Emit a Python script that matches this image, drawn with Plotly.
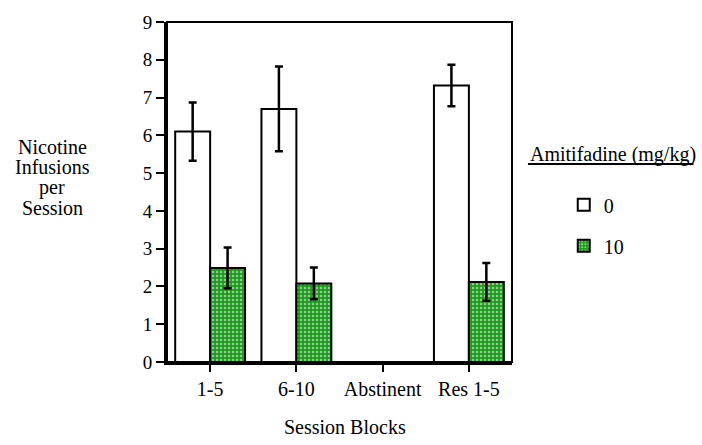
import plotly.graph_objects as go

categories = ["1-5", "6-10", "Abstinent", "Res 1-5"]
dose0_values = [6.1, 6.7, None, 7.32]
dose0_err = [0.77, 1.12, None, 0.55]
dose10_values = [2.49, 2.08, None, 2.12]
dose10_err = [0.54, 0.42, None, 0.5]
y_ticks = list(range(0, 10))
series_names = ["0", "10"]
legend_title = "Amitifadine (mg/kg)"
y_title_lines = ["Nicotine", "Infusions", "per", "Session"]
x_title = "Session Blocks"

FONT = "Liberation Serif"
GREEN = "#1f9a1f"

fig = go.Figure()
fig.add_trace(go.Bar(
    x=categories, y=dose0_values, name=series_names[0], legendgroup="a",
    marker=dict(color="white", line=dict(color="black", width=2)),
    error_y=dict(type="data", array=dose0_err, color="black", thickness=2.5, width=4),
))
fig.add_trace(go.Bar(
    x=categories, y=dose10_values, name=series_names[1], legendgroup="b",
    marker=dict(color=GREEN, line=dict(color="black", width=2),
                pattern=dict(shape=".", fgcolor="white", bgcolor=GREEN, size=4, solidity=0.3)),
    error_y=dict(type="data", array=dose10_err, color="black", thickness=2.5, width=4),
))

L, R, T, B = 167, 190, 15, 83
fig.update_layout(
    width=702, height=445,
    margin=dict(l=L, r=R, t=T, b=B),
    paper_bgcolor="white", plot_bgcolor="white",
    barmode="group", bargap=0.19, bargroupgap=0,
    font=dict(family=FONT, size=20, color="black"),
    showlegend=True,
    legend=dict(x=1.15, xanchor="left", y=0.52, yanchor="top",
                font=dict(size=20, family=FONT), tracegroupgap=12,
                bgcolor="rgba(0,0,0,0)"),
    xaxis=dict(range=[-0.5, 3.5], showline=True, linecolor="black", linewidth=3,
               ticks="outside", ticklen=7, tickwidth=2, tickcolor="black",
               tickfont=dict(size=20, family=FONT), showgrid=False, zeroline=False),
    yaxis=dict(range=[0, 9], tickvals=y_ticks, showline=True, linecolor="black", linewidth=3,
               ticks="outside", ticklen=8, tickwidth=2, tickcolor="black",
               tickfont=dict(size=19, family=FONT), showgrid=False, zeroline=False),
)

fig.add_shape(type="rect", xref="paper", yref="paper", x0=0, x1=1, y0=0, y1=1,
              line=dict(color="black", width=2), fillcolor="rgba(0,0,0,0)", layer="above")

center_y = 0.543
step = 21 / 347
n = len(y_title_lines)
for i, line in enumerate(y_title_lines):
    fig.add_annotation(text=line, xref="paper", yref="paper",
                       x=-0.332, y=center_y + ((n - 1) / 2 - i) * step,
                       xanchor="center", yanchor="middle", showarrow=False,
                       font=dict(size=20, family=FONT))

fig.add_annotation(text=x_title, xref="paper", yref="paper", x=0.517, y=-0.19,
                   xanchor="center", yanchor="middle", showarrow=False,
                   font=dict(size=20, family=FONT))

fig.add_annotation(text=legend_title, xref="paper", yref="paper", x=1.046, y=0.611,
                   xanchor="left", yanchor="middle", showarrow=False,
                   font=dict(size=20, family=FONT))
fig.add_shape(type="line", xref="paper", yref="paper",
              x0=(529 - L) / 346, x1=(695 - L) / 346,
              y0=(362 - 160) / 347, y1=(362 - 160) / 347,
              line=dict(color="black", width=2))

fig.write_html("out.html")
